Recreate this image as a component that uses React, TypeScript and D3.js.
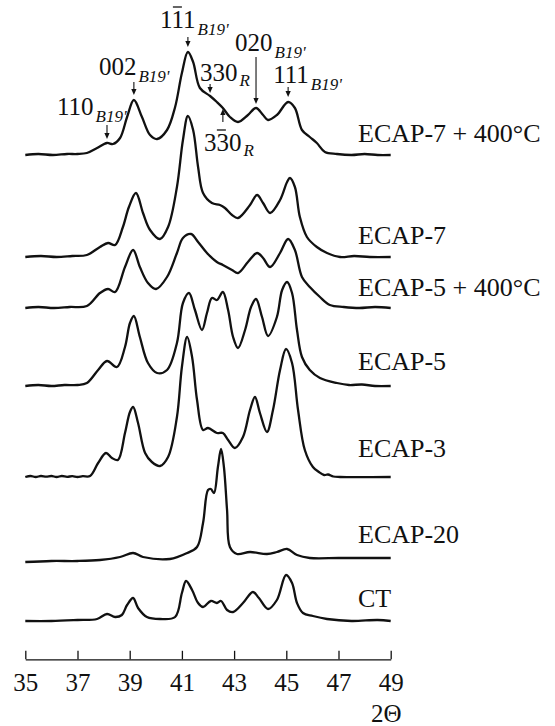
import React, { useEffect, useRef } from 'react';
import * as d3 from 'd3';

// 2θ, intensity (a.u.)
const ecap7Ann: [number, number][] = [
  [35.0, 0], [35.5, 1], [36.06, 0], [36.6, 1], [37.0, 1], [37.36, 2], [37.75, 7], [38.13, 12], [38.36, 11],
  [38.63, 17], [38.9, 38], [39.16, 55], [39.47, 38], [39.78, 20], [40.05, 16], [40.43, 25], [40.74, 48],
  [41.0, 82], [41.23, 103], [41.43, 93], [41.69, 67], [42.08, 59], [42.34, 53], [42.57, 47], [42.84, 38],
  [43.15, 33], [43.53, 40], [43.84, 47], [44.11, 40], [44.3, 35], [44.64, 40], [45.07, 53], [45.33, 47],
  [45.6, 25], [45.9, 18], [46.17, 12], [46.48, 3], [46.94, 1], [47.5, 0], [48.0, 1], [48.5, 0], [49.0, 0],
];

const ecap7: [number, number][] = [
  [35.0, 0], [35.6, 1], [36.2, 0], [36.8, 1], [37.36, 2], [37.86, 10], [38.17, 14], [38.44, 12], [38.74, 30],
  [38.97, 50], [39.24, 64], [39.51, 44], [39.78, 27], [40.16, 18], [40.47, 30], [40.81, 70], [41.04, 117],
  [41.23, 141], [41.43, 127], [41.62, 90], [41.81, 64], [42.15, 54], [42.46, 52], [42.65, 49], [42.92, 42],
  [43.15, 39], [43.61, 52], [43.88, 62], [44.11, 54], [44.38, 44], [44.76, 57], [45.03, 75], [45.14, 79],
  [45.33, 70], [45.52, 40], [45.79, 20], [46.17, 10], [46.56, 4], [47.06, 0], [47.6, 1], [48.2, 0], [49.0, 0],
];

const ecap5Ann: [number, number][] = [
  [35.0, 0], [35.5, 1], [36.1, 0], [36.7, 1], [37.36, 2], [37.86, 15], [38.17, 19], [38.44, 16], [38.82, 41],
  [39.13, 58], [39.39, 41], [39.7, 25], [40.01, 19], [40.43, 31], [40.81, 55], [41.04, 70], [41.35, 74],
  [41.62, 66], [41.96, 55], [42.34, 46], [42.57, 43], [42.92, 38], [43.15, 35], [43.53, 46], [43.88, 55],
  [44.11, 50], [44.38, 41], [44.76, 55], [45.07, 69], [45.33, 58], [45.6, 31], [45.9, 21], [46.29, 11],
  [46.67, 3], [47.2, 1], [47.8, 0], [48.4, 1], [49.0, 0],
];

const ecap5: [number, number][] = [
  [35.0, 0], [35.5, 1], [36.0, 0], [36.5, 1], [37.0, 1], [37.36, 3], [37.79, 16], [38.13, 25], [38.51, 19],
  [38.82, 39], [39.01, 63], [39.16, 70], [39.39, 49], [39.7, 23], [40.05, 13], [40.43, 16], [40.81, 43],
  [41.04, 83], [41.27, 93], [41.5, 76], [41.77, 56], [41.96, 73], [42.15, 88], [42.34, 86], [42.57, 94],
  [42.77, 76], [42.96, 49], [43.15, 38], [43.42, 56], [43.65, 79], [43.84, 87], [44.07, 69], [44.3, 50],
  [44.64, 69], [44.84, 96], [45.03, 104], [45.22, 93], [45.41, 56], [45.6, 29], [45.9, 16], [46.29, 8],
  [46.94, 3], [47.4, 1], [47.9, 1.5], [48.4, 0], [49.0, 0],
];

const ecap3: [number, number][] = [
  [35.0, 0], [35.2, 1], [35.4, 0], [35.6, 1], [35.8, 0.3], [36.0, 1], [36.2, 0], [36.4, 1], [36.6, 0.2],
  [36.8, 0.8], [37.0, 0], [37.2, 0.8], [37.48, 1],
  [37.79, 14], [38.09, 24], [38.32, 19], [38.55, 17], [38.82, 44], [39.01, 65], [39.13, 70], [39.32, 54],
  [39.59, 24], [39.85, 15], [40.16, 11], [40.47, 20], [40.81, 60], [41.0, 110], [41.2, 140], [41.39, 120],
  [41.58, 77], [41.81, 47], [42.0, 49], [42.34, 44], [42.57, 44], [42.77, 37], [43.03, 29], [43.34, 40],
  [43.61, 67], [43.8, 80], [43.99, 64], [44.26, 45], [44.49, 67], [44.76, 107], [44.99, 128], [45.22, 114],
  [45.45, 67], [45.71, 27], [46.02, 10], [46.25, 5], [46.45, 2], [46.6, 2.5], [46.8, 0.5], [47.06, 0], [49.0, 0],
];

const ecap20: [number, number][] = [
  [35.0, 0], [36.0, 1], [37.0, 1], [37.86, 2], [38.63, 5], [39.13, 9], [39.51, 5], [40.54, 3], [41.2, 9],
  [41.58, 15], [41.81, 39], [42.0, 72], [42.11, 73], [42.23, 69], [42.38, 95], [42.5, 113], [42.61, 95],
  [42.73, 52], [42.84, 15], [43.11, 8], [43.61, 10], [44.26, 8], [44.64, 10], [45.03, 13], [45.41, 7],
  [45.9, 4], [47.0, 4], [48.0, 4], [49.0, 4],
];

const ct: [number, number][] = [
  [35.0, 0], [36.0, 0], [37.0, 1], [37.75, 2], [38.13, 7], [38.44, 4], [38.7, 6], [38.9, 16], [39.13, 23],
  [39.32, 13], [39.66, 4], [40.16, 2], [40.74, 4], [41.0, 28], [41.16, 40], [41.39, 31], [41.62, 18],
  [41.81, 14], [42.11, 20], [42.34, 18], [42.5, 20], [42.73, 11], [42.96, 9], [43.34, 18], [43.72, 29],
  [43.95, 23], [44.3, 12], [44.64, 21], [44.99, 46], [45.22, 38], [45.41, 18], [45.64, 8], [46.02, 5],
  [46.56, 2], [47.5, 0], [48.5, 1], [49.0, 0],
];

const scans = [ecap7Ann, ecap7, ecap5Ann, ecap5, ecap3, ecap20, ct];
const sampleNames = ['ECAP-7 + 400°C', 'ECAP-7', 'ECAP-5 + 400°C', 'ECAP-5', 'ECAP-3', 'ECAP-20', 'CT'];
const offsets = [505, 403, 352, 274, 183, 98, 39];
const tickValues = [35, 37, 39, 41, 43, 45, 47, 49];

// reflections marked on the top scan
const peakHkl = ['110', '002', '111', '330', '330', '020', '111'];
const peakPhase = ["B19'", "B19'", "B19'", 'R', 'R', "B19'", "B19'"];
const peakPos = [38.13, 39.16, 41.23, 42.08, 42.57, 43.84, 45.07];
const peakBar = [false, false, true, false, true, false, false];

const serif = '"Liberation Serif", "Times New Roman", serif';

const App = () => {
  const ref = useRef<SVGSVGElement>(null);

  useEffect(() => {
    const width = 555, height = 726;
    const svg = d3.select(ref.current);
    svg.selectAll('*').remove();

    const x = d3.scaleLinear().domain([35, 49]).range([25.3, 390.7]);
    const y = d3.scaleLinear().domain([0, 660]).range([660, 0]);

    const line = d3.line<[number, number]>()
      .x(d => x(d[0]))
      .curve(d3.curveCatmullRom.alpha(0.5));

    scans.forEach((scan, i) => {
      svg.append('path')
        .attr('d', line.y(d => y(offsets[i] + d[1]))(scan))
        .attr('fill', 'none')
        .attr('stroke', '#111')
        .attr('stroke-width', 2.3)
        .attr('stroke-linejoin', 'round');
    });

    // sample names
    const labelY = [142, 244, 296, 370, 457, 543, 607];
    sampleNames.forEach((name, i) => {
      svg.append('text')
        .attr('x', 358)
        .attr('y', labelY[i])
        .attr('font-family', serif)
        .attr('font-size', 26)
        .attr('fill', '#111')
        .text(name);
    });

    // peak annotations: [text dx, text baseline, arrow top, arrow bottom, arrow points up]
    const layout: [number, number, number, number, boolean][] = [
      [-50, 115, 125, 139, false],
      [-35, 75, 82, 95, false],
      [-28, 28, 37, 47, false],
      [-10, 81, 84, 93, false],
      [-19, 151, 109, 122, true],
      [-21, 51, 57, 104, false],
      [-15, 83, 87, 97, false],
    ];

    peakPos.forEach((p, i) => {
      const ax = x(p);
      const [dx, ty, a0, a1, up] = layout[i];
      const t = svg.append('text')
        .attr('x', ax + dx)
        .attr('y', ty)
        .attr('font-family', serif)
        .attr('font-size', 25)
        .attr('fill', '#111')
        .text(peakHkl[i]);
      t.append('tspan')
        .attr('dx', 2)
        .attr('dy', peakPhase[i] === 'R' ? 5 : 7)
        .attr('font-size', 17)
        .attr('font-style', 'italic')
        .text(peakPhase[i]);

      if (peakBar[i]) {
        svg.append('line')
          .attr('x1', ax + dx + 13).attr('x2', ax + dx + 22)
          .attr('y1', ty - 21).attr('y2', ty - 21)
          .attr('stroke', '#111').attr('stroke-width', 1.3);
      }

      svg.append('line')
        .attr('x1', ax).attr('x2', ax)
        .attr('y1', up ? a0 + 4 : a0)
        .attr('y2', up ? a1 : a1 - 4)
        .attr('stroke', '#111').attr('stroke-width', 1.1);
      const tip = up ? a0 : a1;
      const base = up ? a0 + 6 : a1 - 6;
      svg.append('path')
        .attr('d', `M${ax - 2.6},${base}L${ax + 2.6},${base}L${ax},${tip}Z`)
        .attr('fill', '#111');
    });

    // 2θ axis
    const axis = svg.append('g')
      .attr('transform', `translate(0,659.3)`)
      .call(d3.axisBottom(x).tickValues(tickValues).tickSizeInner(-8.5).tickSizeOuter(0).tickPadding(13.5)
        .tickFormat(d => String(d)));
    axis.select('.domain').attr('stroke', '#111').attr('stroke-width', 1.3);
    axis.selectAll('.tick line').attr('stroke', '#111').attr('stroke-width', 1.3);
    axis.selectAll('.tick text')
      .attr('font-family', serif)
      .attr('font-size', 25)
      .attr('fill', '#111');

    svg.append('text')
      .attr('x', 371)
      .attr('y', 722)
      .attr('font-family', serif)
      .attr('font-size', 25)
      .attr('fill', '#111')
      .text('2Θ');

    svg.attr('width', width).attr('height', height);
  }, []);

  return (
    <div style={{ position: 'absolute', left: 0, top: 0 }}>
      <svg ref={ref} width={555} height={726} style={{ display: 'block', background: '#fff' }} />
    </div>
  );
};

export default App;
